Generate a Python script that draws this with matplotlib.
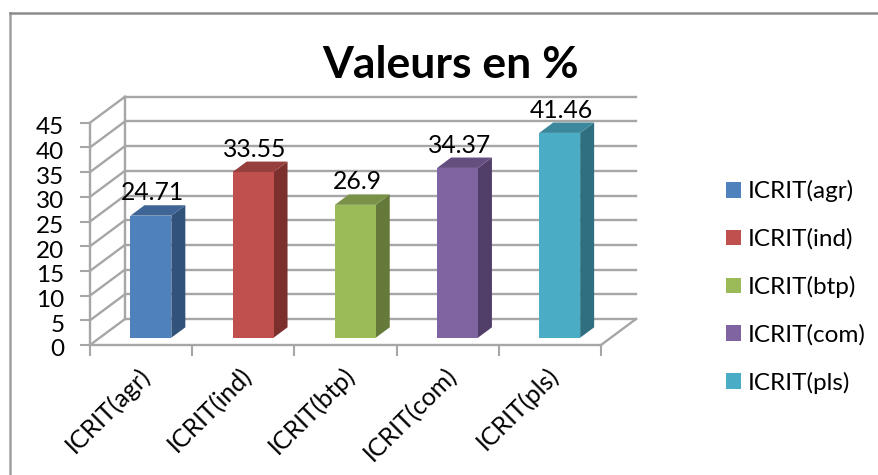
import matplotlib
matplotlib.use('Agg')
import matplotlib.pyplot as plt
from matplotlib.lines import Line2D
from matplotlib.patches import Patch
from matplotlib.transforms import ScaledTranslation

plt.rcParams['font.family'] = ['Lato', 'DejaVu Sans']

categories = ['ICRIT(agr)', 'ICRIT(ind)', 'ICRIT(btp)', 'ICRIT(com)', 'ICRIT(pls)']
values = [24.71, 33.55, 26.9, 34.37, 41.46]
value_labels = ['24.71', '33.55', '26.9', '34.37', '41.46']
front_colors = ['#4f81bd', '#c0504d', '#9bbb59', '#8064a2', '#4bacc6']
side_colors = ['#31527a', '#7c302e', '#64793a', '#523f69', '#2f6f80']
top_colors = ['#3e6595', '#963f3d', '#799247', '#654f80', '#3b879b']
y_ticks = list(range(0, 50, 5))

W, H = 879, 475
fig = plt.figure(figsize=(W / 100, H / 100), dpi=100)
# axes = plan avant du graphique 3D, en pixels de l'image
left, right, y0, y45 = 90, 601, 345, 122.7
ax = fig.add_axes([left / W, 1 - y0 / H, (right - left) / W, (y0 - y45) / H])
ax.set_xlim(0, 5)
ax.set_ylim(0, 45)
ax.patch.set_visible(False)

# profondeur : decalage en unites de donnees
dx = 35 / ((right - left) / 5)
dy = 26 / ((y0 - y45) / 45)
bar_w = 0.4
d_front = 0.28
d_back = 0.68
grid = '#a6a6a6'

# murs
for t in y_ticks:
    ax.plot([0, dx], [t, t + dy], color=grid, lw=1.7, clip_on=False, zorder=1)
    ax.plot([dx, 5 + dx], [t + dy, t + dy], color=grid, lw=1.7, clip_on=False, zorder=1)
ax.plot([dx, dx], [dy, 45 + dy], color=grid, lw=1.7, clip_on=False, zorder=1)
ax.plot([5, 5 + dx], [0, dy], color=grid, lw=1.7, clip_on=False, zorder=1)

# barres
for i, v in enumerate(values):
    x0 = i + 0.5 - bar_w / 2 + d_front * dx
    x1 = x0 + bar_w
    b = d_front * dy
    ox = (d_back - d_front) * dx
    oy = (d_back - d_front) * dy
    ax.fill([x1, x1 + ox, x1 + ox, x1], [b, b + oy, v + b + oy, v + b], color=side_colors[i],
            lw=0, clip_on=False, zorder=3)
    ax.fill([x0, x1, x1 + ox, x0 + ox], [v + b, v + b, v + b + oy, v + b + oy], color=top_colors[i],
            lw=0, clip_on=False, zorder=3)
    ax.bar(x0, v, width=bar_w, bottom=b, align='edge', color=front_colors[i], lw=0,
           clip_on=False, zorder=4)
    ax.text(x0 + bar_w / 2 + 0.02, v + b + oy + 0.2, value_labels[i], ha='center', va='bottom',
            fontsize=17.8, color='black', zorder=5)

# axes
for s in ['top', 'right']:
    ax.spines[s].set_visible(False)
for s in ['left', 'bottom']:
    ax.spines[s].set_color(grid)
    ax.spines[s].set_linewidth(1.7)
ax.set_yticks(y_ticks)
ax.tick_params(axis='y', length=7, width=1.5, color=grid, labelsize=17.5, pad=11.5)
for lab in ax.get_yticklabels():
    lab.set_transform(lab.get_transform() + ScaledTranslation(0, -3 / 100, fig.dpi_scale_trans))
ax.set_xticks(range(6))
ax.set_xticklabels([])
ax.tick_params(axis='x', length=8, width=1.5, color=grid)
ax.set_xticks([i + 0.47 for i in range(5)], minor=True)
ax.set_xticklabels(categories, minor=True, rotation=45, ha='right', rotation_mode='anchor', fontsize=18)
ax.tick_params(axis='x', which='minor', length=0, pad=13)

fig.text(451 / W, 1 - 65 / H, 'Valeurs en %', fontsize=32, fontweight='bold', ha='center', va='center')

# legende
handles = [Patch(facecolor=c, edgecolor='none') for c in front_colors]
fig.legend(handles, categories, loc='center left', bbox_to_anchor=(726 / W, 1 - 287 / H), frameon=False,
           fontsize=17.5, handlelength=0.62, handleheight=0.62, handletextpad=0.29, labelspacing=1.07,
           borderpad=0, borderaxespad=0)

# cadre (haut et gauche seulement)
fig.add_artist(Line2D([9.5 / W, 9.5 / W], [0, 1 - 13 / H], color='#a0a0a0', lw=1.8))
fig.add_artist(Line2D([9.5 / W, 1], [1 - 13 / H, 1 - 13 / H], color='#8c8c8c', lw=1.8))

fig.savefig('out.png', dpi=100)
